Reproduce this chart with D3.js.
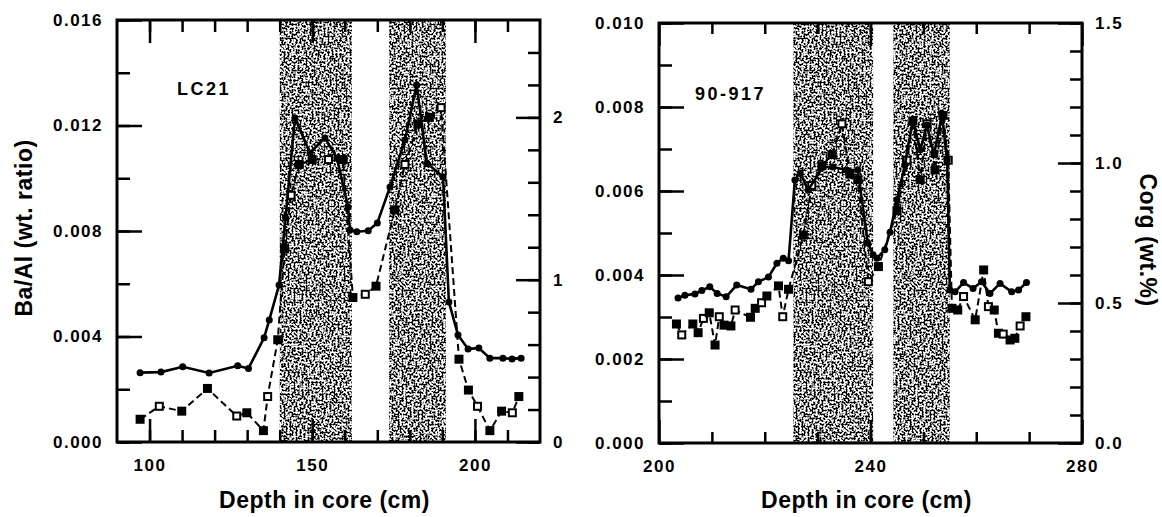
<!DOCTYPE html>
<html>
<head>
<meta charset="utf-8">
<title>Ba/Al and Corg profiles</title>
<script src="https://d3js.org/d3.v7.min.js"></script>
<style>
  body { margin: 0; background: #fff; }
  svg text { font-family: "Liberation Sans", Arial, sans-serif; font-weight: bold; fill: #000; }
  .tick text { font-size: 17px; letter-spacing: 1.5px; }
  .title { font-size: 23px; letter-spacing: 0.5px; }
  .core { font-size: 18px; letter-spacing: 2.5px; }
</style>
</head>
<body>
<svg id="chart" width="1162" height="517"></svg>
<script>
// LC21 core: Ba/Al (solid, circles) and Corg (dashed, squares)
var lcBaDepth = [97.1, 103.5, 110.2, 118.3, 127.1, 130.4, 135.2, 136.8, 139.8, 141.8,
                 144.7, 149.3, 153.9, 157.6, 161.0, 161.6, 163.7, 167.2, 170.0, 173.9,
                 178.5, 182.1, 185.2, 190.2, 192.0, 194.8, 197.9, 201.2, 204.6, 208.6,
                 211.4, 214.2];
var lcBa = [0.00263, 0.00265, 0.00285, 0.00262, 0.00289, 0.00279, 0.00395, 0.00463, 0.00595, 0.0085,
            0.01228, 0.01096, 0.01153, 0.01077, 0.00891, 0.00804, 0.00797, 0.00801, 0.0083, 0.00967,
            0.01145, 0.01354, 0.01058, 0.01005, 0.00531, 0.00406, 0.00353, 0.00356, 0.00318, 0.00318,
            0.00315, 0.00318];
var lcCorgDepth = [97.1, 103.0, 109.9, 117.8, 126.8, 129.9, 135.0, 136.3, 139.4, 141.5,
                   143.5, 146.0, 150.0, 155.0, 159.5, 162.5, 166.3, 169.6, 175.4, 178.5,
                   182.5, 186.0, 189.6, 195.1, 198.0, 200.8, 204.6, 208.2, 211.5, 213.5];
var lcCorg = [0.14, 0.22, 0.19, 0.33, 0.16, 0.18, 0.07, 0.28, 0.63, 1.19,
              1.52, 1.71, 1.74, 1.74, 1.74, 0.89, 0.91, 0.96, 1.43, 1.71,
              1.96, 2.0, 2.06, 0.51, 0.32, 0.22, 0.07, 0.19, 0.18, 0.28];
var lcBands = [[140, 162.2], [173.6, 191.1]];

// 90-917 core
var odpBaDepth = [203.6, 204.9, 206.8, 208.1, 209.6, 211.0, 212.7, 214.7, 217.4, 218.8,
                  220.7, 222.3, 223.5, 224.5, 225.7, 226.7, 228.2, 231.0, 232.9, 235.4,
                  237.6, 239.5, 240.5, 241.2, 242.7, 243.7, 245.0, 246.5, 248.0, 249.4,
                  250.7, 252.0, 253.5, 254.5, 255.0, 256.0, 257.6, 259.4, 261.0, 262.6,
                  264.5, 266.7, 268.0, 269.5];
var odpBa = [0.00345, 0.00352, 0.00355, 0.00363, 0.00372, 0.00356, 0.00348, 0.00376, 0.00366, 0.00384,
             0.00395, 0.00428, 0.0044, 0.00434, 0.00626, 0.00643, 0.00602, 0.00657, 0.00657, 0.0065,
             0.0065, 0.00476, 0.00448, 0.0044, 0.0046, 0.00502, 0.00579, 0.00662, 0.00769, 0.00698,
             0.00757, 0.00686, 0.00781, 0.00674, 0.00364, 0.0036, 0.00382, 0.00368, 0.00384, 0.00356,
             0.0038, 0.0036, 0.00364, 0.00382];
var odpCorgDepth = [203.3, 204.3, 206.4, 207.4, 208.4, 209.5, 210.6, 211.4, 212.3, 213.6,
                    214.4, 217.3, 218.2, 219.4, 220.4, 222.6, 223.4, 224.5, 227.3, 228.9,
                    230.8, 232.7, 234.6, 236.1, 237.6, 239.6, 241.5, 245.0, 246.9, 248.0,
                    249.4, 250.7, 252.2, 253.7, 254.7, 255.4, 256.5, 257.6, 259.8, 261.4,
                    262.3, 263.4, 264.2, 265.1, 266.4, 267.3, 268.3, 269.4];
var odpCorg = [0.425, 0.386, 0.425, 0.394, 0.445, 0.465, 0.35, 0.451, 0.421, 0.418,
               0.475, 0.449, 0.481, 0.501, 0.525, 0.561, 0.451, 0.549, 0.743, 0.92,
               0.99, 1.03, 1.14, 0.96, 0.94, 0.576, 0.63, 0.83, 1.01, 1.15,
               0.94, 1.14, 0.975, 1.17, 1.01, 0.481, 0.475, 0.523, 0.44, 0.618,
               0.487, 0.475, 0.392, 0.389, 0.368, 0.374, 0.418, 0.451];
var odpBands = [[225.4, 240.5], [244.3, 255.0]];

// tick labels
var lcXTicks = [100, 150, 200];
var lcYTicks = [0, 0.004, 0.008, 0.012, 0.016];
var lcY2Ticks = [0, 1, 2];
var odpXTicks = [200, 240, 280];
var odpYTicks = [0, 0.002, 0.004, 0.006, 0.008, 0.010];
var odpY2Ticks = [0, 0.5, 1.0, 1.5];

var svg = d3.select("#chart");

// stippled fill for the shaded intervals
var filter = svg.append("defs").append("filter")
    .attr("id", "stipple")
    .attr("x", 0).attr("y", 0).attr("width", 1).attr("height", 1)
    .attr("color-interpolation-filters", "sRGB");
filter.append("feTurbulence")
    .attr("type", "fractalNoise").attr("baseFrequency", 0.5).attr("numOctaves", 2).attr("seed", 3)
    .attr("result", "noise");
filter.append("feColorMatrix")
    .attr("in", "noise").attr("type", "matrix")
    .attr("values", "0 0 0 0 0  0 0 0 0 0  0 0 0 0 0  12 0 0 0 -5.6")
    .attr("result", "dots");
filter.append("feComposite").attr("in", "dots").attr("in2", "SourceGraphic").attr("operator", "in");

function tickAxis(g, axis, transform, values, len, fmt, pad) {
    var a = axis.tickValues(values).tickSizeInner(-len).tickSizeOuter(0)
        .tickPadding(pad || 0).tickFormat(fmt || "");
    var sel = g.append("g").attr("transform", transform).call(a);
    sel.select(".domain").remove();
    sel.selectAll("line").attr("stroke", "#000").attr("stroke-width", 2.5);
    return sel;
}

function drawPanel(p) {
    var g = svg.append("g");
    var x = d3.scaleLinear().domain(p.xDomain).range([p.left, p.right]);
    var y = d3.scaleLinear().domain(p.yDomain).range([p.bottom, p.top]);
    var y2 = d3.scaleLinear().domain(p.y2Domain).range([p.bottom, p.top]);

    g.selectAll(".band").data(p.bands).join("rect")
        .attr("class", "band")
        .attr("x", d => x(d[0]))
        .attr("y", p.top)
        .attr("width", d => x(d[1]) - x(d[0]))
        .attr("height", p.bottom - p.top)
        .attr("fill", "#fff")
        .attr("filter", "url(#stipple)");

    var ba = d3.zip(p.baDepth, p.ba);
    var corg = d3.zip(p.corgDepth, p.corg);

    g.append("path").datum(corg)
        .attr("fill", "none").attr("stroke", "#000").attr("stroke-width", 2)
        .attr("stroke-dasharray", "7,4")
        .attr("d", d3.line().x(d => x(d[0])).y(d => y2(d[1])));
    g.selectAll(".sq").data(corg).join("rect")
        .attr("class", "sq")
        .attr("x", d => x(d[0]) - 3.5).attr("y", d => y2(d[1]) - 3.5)
        .attr("width", 7).attr("height", 7)
        .attr("fill", (d, i) => i % 3 == 1 ? "#fff" : "#000")
        .attr("stroke", "#000").attr("stroke-width", 2);

    g.append("path").datum(ba)
        .attr("fill", "none").attr("stroke", "#000").attr("stroke-width", 2.6)
        .attr("d", d3.line().x(d => x(d[0])).y(d => y(d[1])));
    g.selectAll(".dot").data(ba).join("circle")
        .attr("class", "dot")
        .attr("cx", d => x(d[0])).attr("cy", d => y(d[1]))
        .attr("r", 3.5).attr("fill", "#000");

    // ticks, minor then major, all pointing into the plot
    tickAxis(g, d3.axisBottom(x), "translate(0," + p.bottom + ")", p.xMinor, p.xMinorLen);
    tickAxis(g, d3.axisBottom(x), "translate(0," + p.bottom + ")", p.xTicks, 23, d3.format("d"), 17);
    tickAxis(g, d3.axisTop(x), "translate(0," + p.top + ")", p.xMinor, p.xMinorLen);
    tickAxis(g, d3.axisTop(x), "translate(0," + p.top + ")", p.xTicks, 23);
    tickAxis(g, d3.axisLeft(y), "translate(" + p.left + ",0)", p.yMinor, 13);
    tickAxis(g, d3.axisLeft(y), "translate(" + p.left + ",0)", p.yTicks, 25, d3.format(".3f"), 14);
    tickAxis(g, d3.axisRight(y2), "translate(" + p.right + ",0)", p.y2Minor, 12);
    tickAxis(g, d3.axisRight(y2), "translate(" + p.right + ",0)", p.y2Ticks, 24, p.y2Format, 13);

    g.append("rect")
        .attr("x", p.left).attr("y", p.top)
        .attr("width", p.right - p.left).attr("height", p.bottom - p.top)
        .attr("fill", "none").attr("stroke", "#000").attr("stroke-width", 3);

    g.append("text").attr("class", "core")
        .attr("x", p.nameX).attr("y", p.nameY).text(p.name);
    g.append("text").attr("class", "title")
        .attr("x", (p.left + p.right) / 2 - 4).attr("y", 508)
        .attr("text-anchor", "middle").text("Depth in core (cm)");
}

drawPanel({
    left: 117, right: 540, top: 20, bottom: 442,
    xDomain: [90, 220], yDomain: [0, 0.016], y2Domain: [0, 2.6],
    bands: lcBands,
    baDepth: lcBaDepth, ba: lcBa, corgDepth: lcCorgDepth, corg: lcCorg,
    xTicks: lcXTicks, xMinor: d3.range(100, 220, 10), xMinorLen: 12,
    yTicks: lcYTicks, yMinor: d3.range(0, 0.0161, 0.002),
    y2Ticks: lcY2Ticks, y2Minor: d3.range(0, 2.5, 0.2), y2Format: d3.format("d"),
    name: "LC21", nameX: 177, nameY: 95
});

drawPanel({
    left: 659, right: 1082, top: 23, bottom: 443,
    xDomain: [200, 280], yDomain: [0, 0.010], y2Domain: [0, 1.5],
    bands: odpBands,
    baDepth: odpBaDepth, ba: odpBa, corgDepth: odpCorgDepth, corg: odpCorg,
    xTicks: odpXTicks, xMinor: d3.range(210, 280, 10), xMinorLen: 11,
    yTicks: odpYTicks, yMinor: d3.range(0, 0.0101, 0.001),
    y2Ticks: odpY2Ticks, y2Minor: d3.range(0, 1.51, 0.1), y2Format: d3.format(".1f"),
    name: "90-917", nameX: 695, nameY: 100
});

svg.append("text").attr("class", "title")
    .attr("transform", "translate(32,228) rotate(-90)")
    .attr("text-anchor", "middle").text("Ba/Al (wt. ratio)");
svg.append("text").attr("class", "title")
    .attr("transform", "translate(1140,240) rotate(90)")
    .attr("text-anchor", "middle").text("Corg (wt.%)");
</script>
</body>
</html>
